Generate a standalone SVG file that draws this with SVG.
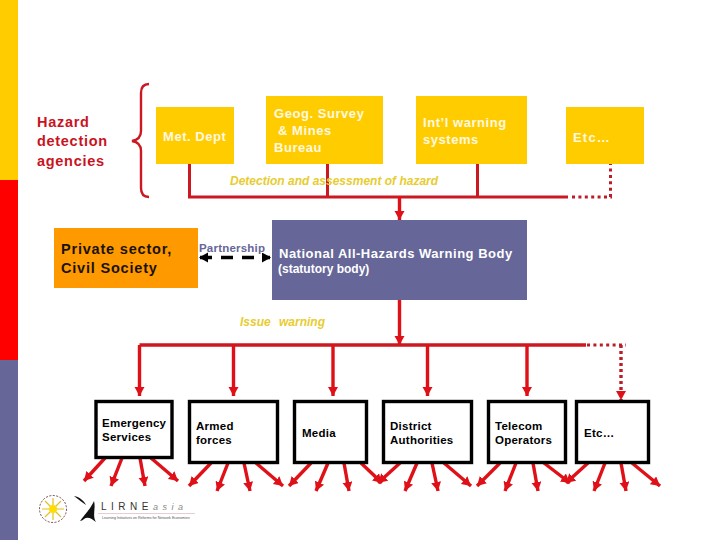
<svg xmlns="http://www.w3.org/2000/svg" width="720" height="540" viewBox="0 0 720 540">
<style>
text{font-family:"Liberation Sans",Arial,sans-serif}
.y{fill:#ffcc00}
.w{fill:#fff8e0;font-weight:bold;font-size:13px;letter-spacing:.55px}
.k{fill:#000;font-size:11.5px;font-weight:bold;letter-spacing:.25px}
.box{fill:#fff;stroke:#000;stroke-width:3.4}
.l{fill:none;stroke:#cc1820;stroke-width:3}
.d{fill:none;stroke:#bb1c28;stroke-width:3;stroke-dasharray:3 3.4}
.a{stroke:#e01018;stroke-width:3.4;fill:none;marker-end:url(#ah)}
.cap{fill:#e8cc30;font-size:12px;font-style:italic;font-weight:bold}
</style>
<defs>
<marker id="ah" markerUnits="userSpaceOnUse" markerWidth="12" markerHeight="12" refX="9" refY="5" orient="auto"><path d="M0 0L9 5L0 10Z" fill="#e01018"/></marker>
<marker id="dh" markerUnits="userSpaceOnUse" markerWidth="11" markerHeight="11" refX="8" refY="5" orient="auto-start-reverse"><path d="M0 0L9 5L0 10Z" fill="#000"/></marker>
</defs>
<rect width="720" height="540" fill="#fff"/>
<rect width="18" height="180" fill="#ffcc00"/>
<rect y="180" width="18" height="180" fill="#ff0000"/>
<rect y="360" width="18" height="180" fill="#666699"/>
<text fill="#c8141e" font-size="14.5" font-weight="bold" letter-spacing=".7"><tspan x="37" y="127">Hazard</tspan><tspan x="37" y="146">detection</tspan><tspan x="37" y="166">agencies</tspan></text>
<path d="M149 84C144 84 141 87 141 93V131C141 137 138 140 132 141C138 142 141 145 141 151V188C141 194 144 197 149 197" fill="none" stroke="#cc1820" stroke-width="2.4"/>
<g id="met"><rect class="y" x="156" y="107" width="78" height="57"/><text class="w" x="163" y="141">Met. Dept</text></g>
<g id="geog"><rect class="y" x="266" y="96" width="117" height="68"/><text class="w"><tspan x="274" y="118">Geog. Survey</tspan><tspan x="278" y="135">&amp; Mines</tspan><tspan x="274" y="152">Bureau</tspan></text></g>
<g id="intl"><rect class="y" x="416" y="96" width="111" height="68"/><text class="w"><tspan x="423" y="127">Int’l warning</tspan><tspan x="423" y="144">systems</tspan></text></g>
<g id="etc1"><rect class="y" x="566" y="107" width="78" height="57"/><text class="w" x="573" y="142" style="letter-spacing:1.2px">Etc…</text></g>
<g id="connectors">
<path class="l" d="M189.500 164V197H568M327.500 164V197M477.500 164V197"/>
<path class="d" d="M572 197H610.500V164"/>
<path class="a" d="M399.500 197V220"/>
<path class="a" d="M399.500 300V345"/>
<path class="l" d="M139.500 345H586" style="stroke-width:3.400"/>
<path class="d" d="M587 345H626"/>
<path class="a" d="M139.500 345V396"/>
<path class="a" d="M233.500 345V396"/>
<path class="a" d="M333 345V396"/>
<path class="a" d="M427.500 345V396"/>
<path class="a" d="M527 345V396"/>
<path class="a" d="M621 345V400" style="stroke-dasharray:3 3;stroke:#bb1c28"/>
<path class="a" d="M105 458L84 481"/><path class="a" d="M122 458L111 486"/><path class="a" d="M140 458L145 486"/><path class="a" d="M151 458L178 481"/>
<path class="a" d="M211 463L189 486"/><path class="a" d="M228 463L217 491"/><path class="a" d="M244 463L250 491"/><path class="a" d="M256 463L283 486"/>
<path class="a" d="M311 463L289 486"/><path class="a" d="M328 463L316 491"/><path class="a" d="M344 463L349 491"/><path class="a" d="M361 463L382 483"/>
<path class="a" d="M400 463L378 483"/><path class="a" d="M417 463L405 491"/><path class="a" d="M432 463L438 491"/><path class="a" d="M444 463L471 486"/>
<path class="a" d="M500 463L477 486"/><path class="a" d="M516 463L505 491"/><path class="a" d="M533 463L538 491"/><path class="a" d="M544 463L570 483"/>
<path class="a" d="M588 463L566 483"/><path class="a" d="M605 463L594 491"/><path class="a" d="M621 463L626 491"/><path class="a" d="M632 463L660 486"/>
<path d="M200 257.500H270" stroke="#000" stroke-width="3.400" stroke-dasharray="12 9" marker-start="url(#dh)" marker-end="url(#dh)" fill="none"/>
</g>
<text class="cap" x="230" y="185">Detection and assessment of hazard</text>
<text class="cap" x="240" y="326">Issue</text>
<text class="cap" x="279" y="326">warning</text>
<g id="private"><rect x="54" y="228" width="144" height="60" fill="#ff9900"/><text fill="#1a1208" font-size="14.500" font-weight="bold" letter-spacing=".8"><tspan x="61" y="254">Private sector,</tspan><tspan x="61" y="273">Civil Society</tspan></text></g>
<text x="199" y="252" fill="#666699" font-size="11.500" font-weight="bold" letter-spacing=".2">Partnership</text>
<g id="national"><rect x="272" y="220" width="255" height="80" fill="#666699"/><text fill="#fff" font-weight="bold"><tspan x="279" y="258" font-size="13" letter-spacing=".5">National All-Hazards Warning Body</tspan><tspan x="278" y="273" font-size="12">(statutory body)</tspan></text></g>
<g id="emergency"><rect class="box" x="96" y="401.500" width="76" height="56"/><text class="k"><tspan x="102" y="427">Emergency</tspan><tspan x="102" y="441">Services</tspan></text></g>
<g id="armed"><rect class="box" x="189.500" y="401.500" width="88" height="61"/><text class="k"><tspan x="196" y="430">Armed</tspan><tspan x="196" y="444">forces</tspan></text></g>
<g id="media"><rect class="box" x="294.500" y="401.500" width="72" height="61"/><text class="k" x="302" y="437">Media</text></g>
<g id="district"><rect class="box" x="383.500" y="401.500" width="88" height="61"/><text class="k"><tspan x="390" y="430">District</tspan><tspan x="390" y="444">Authorities</tspan></text></g>
<g id="telecom"><rect class="box" x="488.500" y="401.500" width="77" height="61"/><text class="k"><tspan x="495" y="430">Telecom</tspan><tspan x="495" y="444">Operators</tspan></text></g>
<g id="etc2"><rect class="box" x="576.500" y="401.500" width="72" height="61"/><text class="k" x="584" y="437">Etc…</text></g>
<g id="logo">
<circle cx="53" cy="509" r="13.500" fill="none" stroke="#7a4a50" stroke-width="1" stroke-dasharray="2 1.500"/>
<path d="M53 498V520M42 509H64M45 501L61 517M61 501L45 517" stroke="#e0c020" stroke-width="1.200"/>
<circle cx="53" cy="509" r="4" fill="#ffdd00"/>
<path d="M74 496C80 497 84 501 86 505C83 503 79 500 74 496ZM80 521C84 515 90 510 94 501C96 508 92 516 96 522C92 519 88 516 84 519C83 520 81 521 80 521Z" fill="#111"/>
<text x="101" y="510" font-size="10" fill="#333" letter-spacing="4.500">LIRNE<tspan font-style="italic" fill="#888" font-size="9">asia</tspan></text>
<path d="M98 513.500H195" stroke="#d8b8c0" stroke-width=".7"/>
<text x="102" y="519" font-size="3.600" fill="#555">Learning Initiatives on Reforms for Network Economies</text>
</g>
</svg>
